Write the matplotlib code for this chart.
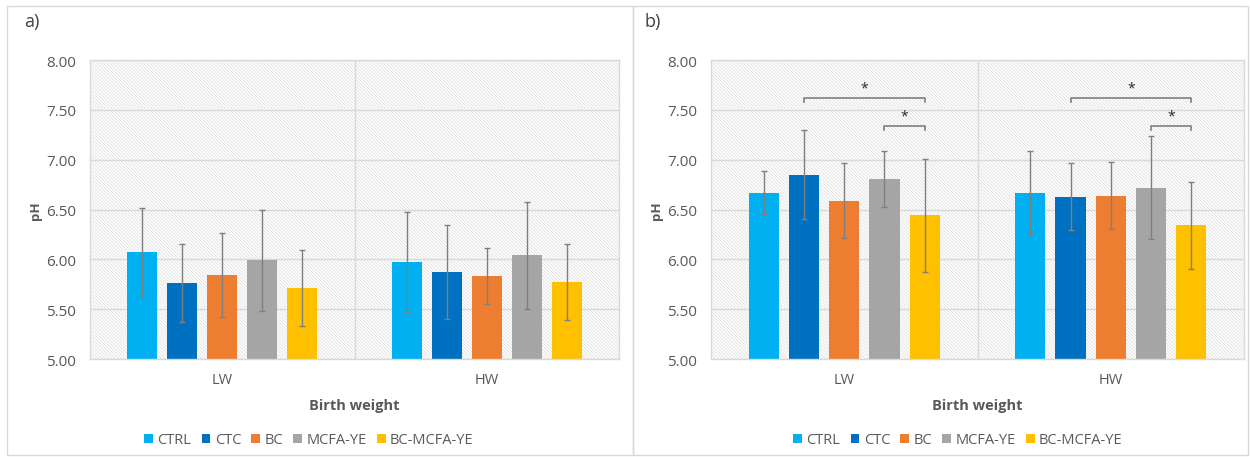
import numpy as np
import matplotlib
matplotlib.use('Agg')
import matplotlib.pyplot as plt
from matplotlib.patches import Rectangle, Patch

plt.rcParams['font.family'] = ['Open Sans', 'DejaVu Sans']
plt.rcParams['hatch.linewidth'] = 0.6

GROUPS = ['CTRL', 'CTC', 'BC', 'MCFA-YE', 'BC-MCFA-YE']
COLORS = ['#00B0F0', '#0070C0', '#ED7D31', '#A5A5A5', '#FFC000']
WEIGHTS = ['LW', 'HW']

# mean pH and SD, one row per birth weight class, one column per treatment
ph_a_mean = [[6.07, 5.76, 5.84, 5.99, 5.71],
             [5.97, 5.87, 5.83, 6.04, 5.77]]
ph_a_sd = [[0.45, 0.39, 0.42, 0.51, 0.38],
           [0.50, 0.47, 0.28, 0.54, 0.38]]
ph_b_mean = [[6.67, 6.85, 6.59, 6.81, 6.44],
             [6.67, 6.63, 6.64, 6.72, 6.34]]
ph_b_sd = [[0.22, 0.45, 0.38, 0.28, 0.57],
           [0.42, 0.34, 0.34, 0.52, 0.44]]

# significant differences in b): (weight class, group i, group j, bracket level)
sig_b = [(0, 1, 4, 7.62), (0, 3, 4, 7.34),
         (1, 1, 4, 7.62), (1, 3, 4, 7.34)]

GRID = '#d9d9d9'
TXT = '#595959'
STEP = 0.151
WIDTH = 0.113


def bar_x(cat, i):
    return cat + (i - 2) * STEP


def draw_panel(ax, means, sds, sig=()):
    means = np.array(means)
    sds = np.array(sds)
    x = np.arange(len(WEIGHTS))

    # patterned plot area
    ax.add_patch(Rectangle((0, 0), 1, 1, transform=ax.transAxes, facecolor='white',
                           edgecolor='#e0e0e0', hatch='\\' * 10, linewidth=0, zorder=0))
    ax.set_axisbelow(True)
    ax.yaxis.grid(True, color=GRID, linewidth=1)
    ax.axvline(0.5, color=GRID, linewidth=1, zorder=0.6)

    for i, g in enumerate(GROUPS):
        xs = x + (i - 2) * STEP
        ax.bar(xs, means[:, i], WIDTH, color=COLORS[i], zorder=2)
        ax.errorbar(xs, means[:, i], yerr=sds[:, i], fmt='none', ecolor='#7f7f7f',
                    elinewidth=1, capsize=2.5, capthick=1, zorder=3)

    for cat, i, j, lev in sig:
        x0, x1 = bar_x(cat, i), bar_x(cat, j)
        ax.plot([x0, x0, x1, x1], [lev - 0.04, lev, lev, lev - 0.04],
                color='#7f7f7f', linewidth=1.2, zorder=4)
        ax.text((x0 + x1) / 2, lev + 0.02, '*', ha='center', va='bottom',
                fontsize=10, color='#262626', zorder=4)

    ax.set_xlim(-0.5, 1.5)
    ax.set_ylim(5.0, 8.0)
    ax.set_yticks(np.arange(5.0, 8.01, 0.5))
    ax.set_yticklabels([f'{v:.2f}' for v in np.arange(5.0, 8.01, 0.5)])
    ax.set_xticks(x)
    ax.set_xticklabels(WEIGHTS)
    ax.tick_params(axis='both', length=0, colors=TXT, labelsize=11)
    ax.tick_params(axis='y', pad=10)
    ax.tick_params(axis='x', pad=9, labelsize=10.5)
    for s in ax.spines.values():
        s.set_color(GRID)
        s.set_linewidth(1)
    ax.set_ylabel('pH', fontsize=9.5, fontweight='bold', color=TXT, labelpad=3)
    ax.set_xlabel('Birth weight', fontsize=10.5, fontweight='bold', color=TXT, labelpad=8)


W, H = 1250, 460
fig = plt.figure(figsize=(W / 100, H / 100), dpi=100)

ax_a = fig.add_axes([90 / W, 1 - 360 / H, 529 / W, 299 / H])
ax_b = fig.add_axes([711 / W, 1 - 360 / H, 533 / W, 299 / H])
draw_panel(ax_a, ph_a_mean, ph_a_sd)
draw_panel(ax_b, ph_b_mean, ph_b_sd, sig_b)

# panel frames
for x0, x1 in [(7, 633), (633, 1248)]:
    fig.add_artist(Rectangle((x0 / W, 4 / H), (x1 - x0) / W, (453 - 4) / H,
                             transform=fig.transFigure, fill=False,
                             edgecolor=GRID, linewidth=1))

fig.text(24 / W, 1 - 22 / H, 'a)', fontsize=13, va='center', color='#404040')
fig.text(645 / W, 1 - 22 / H, 'b)', fontsize=13, va='center', color='#404040')

handles = [Patch(facecolor=c) for c in COLORS]
for cx in (309, 958):
    fig.legend(handles, GROUPS, loc='center', bbox_to_anchor=(cx / W, 1 - 441 / H),
               ncol=5, frameon=False, fontsize=10.5, labelcolor=TXT,
               handlelength=0.6, handleheight=0.6, handletextpad=0.3,
               columnspacing=0.7)

fig.savefig('out.png', dpi=100)
